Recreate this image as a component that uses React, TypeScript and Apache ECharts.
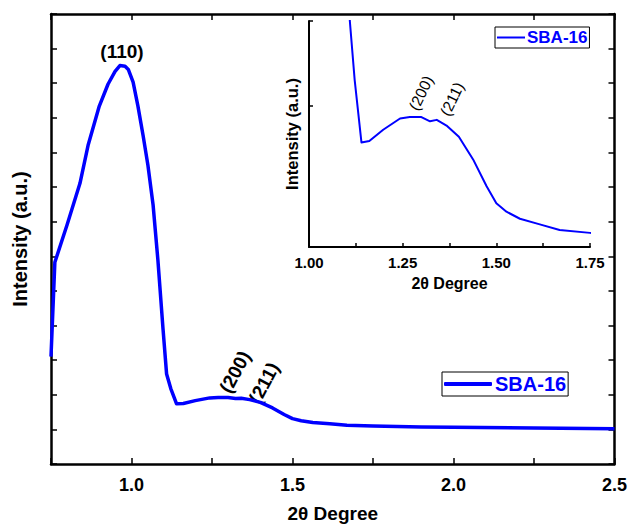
import React, { useEffect, useRef } from "react";
import * as echarts from "echarts";

const twoTheta = [
  0.75, 0.762, 0.8, 0.84, 0.865, 0.9, 0.927, 0.949, 0.964, 0.98, 0.99, 1.005, 1.02, 1.036, 1.051,
  1.067, 1.082, 1.098, 1.109, 1.122, 1.14, 1.161, 1.198, 1.243, 1.269, 1.3, 1.323, 1.341, 1.367,
  1.4, 1.438, 1.474, 1.5, 1.527, 1.563, 1.616, 1.669, 1.75, 1.9, 2.0, 2.25, 2.5,
];
const intensity = [
  3.1, 5.83, 6.91, 8.11, 9.2, 10.34, 10.97, 11.34, 11.51, 11.49, 11.4, 11.03, 10.34, 9.49, 8.63,
  7.49, 5.89, 3.89, 2.6, 2.18, 1.74, 1.75, 1.83, 1.91, 1.92, 1.92, 1.89, 1.9, 1.86, 1.78, 1.62,
  1.43, 1.31, 1.25, 1.2, 1.16, 1.12, 1.1, 1.07, 1.06, 1.04, 1.02,
];
const seriesName = "SBA-16";
const peakLabels = ["(110)", "(200)", "(211)"];
const xTitle = "2\u03b8 Degree";
const yTitle = "Intensity (a.u.)";

const FONT = "'Liberation Sans', Arial, Helvetica, sans-serif";
const BLUE = "#0000ff";
const ROT_MAIN = (62 * Math.PI) / 180;
const ROT_INSET = (64 * Math.PI) / 180;

export default function App() {
  const ref = useRef<HTMLDivElement>(null);
  useEffect(() => {
    if (!ref.current) return;
    const chart = echarts.init(ref.current, undefined, { renderer: "svg" });
    const data = twoTheta.map((x, i) => [x, intensity[i]]);
    const isMult = (v: number, step: number) => Math.abs(v / step - Math.round(v / step)) < 1e-6;

    const mainAxisCommon = {
      axisLine: { show: true, onZero: false, lineStyle: { color: "#000", width: 2.5 } },
      axisTick: { show: true, inside: true, length: 6, lineStyle: { color: "#000", width: 1.5 } },
      splitLine: { show: false },
    };
    const insetAxisCommon = {
      axisLine: { show: true, onZero: false, lineStyle: { color: "#000", width: 2 } },
      axisTick: { show: true, inside: true, length: 4, lineStyle: { color: "#000", width: 1.5 } },
      splitLine: { show: false },
    };

    const peakText = (text: string, x: number, y: number, size: number, bold: boolean, rot: number) => ({
      type: "text",
      x,
      y,
      rotation: rot,
      style: {
        text,
        fill: "#000",
        font: `${bold ? "bold " : ""}${size}px ${FONT}`,
        textAlign: "center",
        textVerticalAlign: "middle",
      },
    });

    chart.setOption({
      animation: false,
      textStyle: { fontFamily: FONT },
      grid: [
        { left: 51, top: 14, width: 564, height: 455, containLabel: false },
        { left: 309, top: 21, width: 281, height: 226, containLabel: false },
      ],
      xAxis: [
        {
          type: "value",
          gridIndex: 0,
          position: "bottom",
          min: 0.75,
          max: 2.5,
          interval: 0.25,
          ...mainAxisCommon,
          axisLabel: {
            show: true,
            margin: 12,
            color: "#000",
            fontSize: 18,
            fontWeight: "bold",
            fontFamily: FONT,
            formatter: (v: number) => (isMult(v, 0.5) ? v.toFixed(1) : ""),
          },
          name: xTitle,
          nameLocation: "middle",
          nameGap: 40,
          nameTextStyle: { color: "#000", fontSize: 19, fontWeight: "bold", fontFamily: FONT },
        },
        {
          type: "value",
          gridIndex: 0,
          position: "top",
          min: 0.75,
          max: 2.5,
          interval: 0.25,
          ...mainAxisCommon,
          axisLabel: { show: false },
        },
        {
          type: "value",
          gridIndex: 1,
          position: "bottom",
          min: 1.0,
          max: 1.75,
          interval: 0.125,
          ...insetAxisCommon,
          axisLabel: {
            show: true,
            margin: 8,
            color: "#000",
            fontSize: 15,
            fontWeight: "bold",
            fontFamily: FONT,
            formatter: (v: number) => (isMult(v, 0.25) ? v.toFixed(2) : ""),
          },
          name: xTitle,
          nameLocation: "middle",
          nameGap: 28,
          nameTextStyle: { color: "#000", fontSize: 16, fontWeight: "bold", fontFamily: FONT },
        },
      ],
      yAxis: [
        {
          type: "value",
          gridIndex: 0,
          position: "left",
          min: 0,
          max: 13,
          interval: 1,
          ...mainAxisCommon,
          axisLabel: { show: false },
          name: yTitle,
          nameLocation: "middle",
          nameGap: 21,
          nameRotate: 90,
          nameTextStyle: { color: "#000", fontSize: 20, fontWeight: "bold", fontFamily: FONT },
        },
        {
          type: "value",
          gridIndex: 0,
          position: "right",
          min: 0,
          max: 13,
          interval: 1,
          ...mainAxisCommon,
          axisLabel: { show: false },
        },
        {
          type: "value",
          gridIndex: 1,
          position: "left",
          min: 1.0,
          max: 2.6,
          interval: 1,
          ...insetAxisCommon,
          axisLabel: { show: false },
          name: yTitle,
          nameLocation: "middle",
          nameGap: 9,
          nameRotate: 90,
          nameTextStyle: { color: "#000", fontSize: 16.5, fontWeight: "bold", fontFamily: FONT },
        },
      ],
      legend: [
        {
          data: [seriesName],
          left: 442,
          top: 372,
          orient: "horizontal",
          padding: [2, 2, 2, 2],
          icon: "roundRect",
          itemWidth: 48,
          itemHeight: 4,
          itemGap: 0,
          borderColor: "#000",
          borderWidth: 1,
          borderRadius: 0,
          backgroundColor: "#fff",
          itemStyle: { color: BLUE },
          textStyle: { color: BLUE, fontSize: 20, fontWeight: "bold", fontFamily: FONT, padding: [0, 0, 0, -2] },
          selectedMode: false,
        },
        {
          data: [seriesName],
          left: 495,
          top: 27,
          orient: "horizontal",
          padding: [2, 2, 2, 2],
          icon: "rect",
          itemWidth: 28,
          itemHeight: 2,
          itemGap: 0,
          borderColor: "#000",
          borderWidth: 1,
          borderRadius: 0,
          backgroundColor: "#fff",
          itemStyle: { color: BLUE },
          textStyle: { color: BLUE, fontSize: 17, fontWeight: "bold", fontFamily: FONT, padding: [0, 0, 0, -3] },
          selectedMode: false,
        },
      ],
      series: [
        {
          name: seriesName,
          type: "line",
          xAxisIndex: 0,
          yAxisIndex: 0,
          data,
          symbol: "none",
          lineStyle: { color: BLUE, width: 3.5, join: "round" },
          itemStyle: { color: BLUE },
          clip: true,
        },
        {
          name: seriesName,
          type: "line",
          xAxisIndex: 2,
          yAxisIndex: 2,
          data,
          symbol: "none",
          lineStyle: { color: BLUE, width: 2, join: "round" },
          itemStyle: { color: BLUE },
          clip: true,
        },
      ],
      graphic: [
        peakText(peakLabels[0], 122, 51, 19, true, 0),
        peakText(peakLabels[1], 235, 372, 19, true, ROT_MAIN),
        peakText(peakLabels[2], 264, 383, 19, true, ROT_MAIN),
        peakText(peakLabels[1], 421, 93, 15.5, false, ROT_INSET),
        peakText(peakLabels[2], 452, 99, 15.5, false, ROT_INSET),
      ],
    });
    return () => chart.dispose();
  }, []);
  return (
    <div
      ref={ref}
      style={{ position: "absolute", left: 0, top: 0, width: 630, height: 528, background: "#fff" }}
    />
  );
}
